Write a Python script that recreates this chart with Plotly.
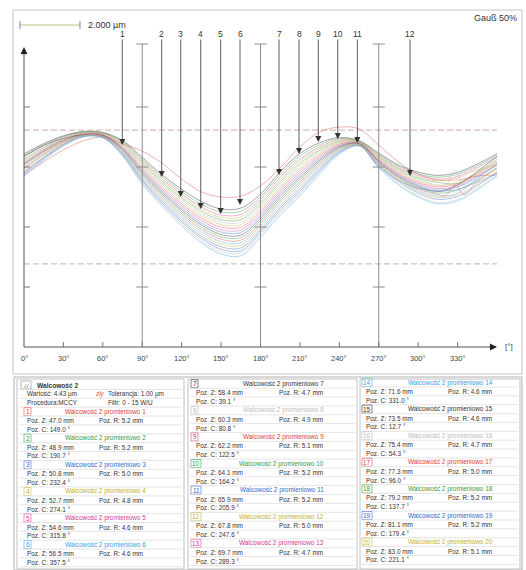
import plotly.graph_objects as go

W, H = 526, 570

# ---------------- roundness profiles (µm) ----------------
angle_deg = [0, 15, 30, 45, 60, 75, 90, 105, 120, 135, 150, 165, 180,
             195, 210, 225, 240, 255, 270, 285, 300, 315, 330, 345, 360]
bump_deg = [0, 15, 30, 45, 60, 75, 90, 105, 120, 135, 150, 165, 180,
            195, 210, 225, 240, 255, 270, 285, 300, 315, 321, 328, 335, 345, 360]

profile_01 = [0.73, 1.17, 1.57, 1.87, 2.00, 1.77, 1.53, 1.13, 0.60, 0.17, 0.00, 0.03, 0.37,
              0.97, 1.67, 2.17, 2.33, 2.27, 1.73, 1.17, 0.77, 0.57, 0.57, 0.70, 0.73]
profile_02 = [1.26, 1.65, 1.96, 2.14, 2.11, 1.76, 1.11, 0.49, -0.03, -0.48, -0.76, -0.75, -0.24,
              0.50, 1.11, 1.56, 1.85, 1.84, 1.34, 0.91, 0.63, 0.49, 0.45, 0.80, 1.26]
profile_03 = [1.06, 1.50, 1.87, 2.09, 2.06, 1.62, 0.87, 0.21, -0.36, -0.86, -1.17, -1.18, -0.63,
              0.11, 0.73, 1.28, 1.70, 1.79, 1.21, 0.73, 0.40, 0.23, 0.33, 0.66, 1.06]
profile_04 = [1.18, 1.59, 1.92, 2.12, 2.09, 1.70, 1.01, 0.38, -0.16, -0.63, -0.92, -0.92, -0.40,
              0.34, 0.96, 1.45, 1.79, 1.82, 1.29, 0.84, 0.54, 0.39, 0.49, 0.80, 1.18]
profile_05 = [1.34, 1.71, 2.00, 2.16, 2.13, 1.82, 1.21, 0.60, 0.10, -0.33, -0.60, -0.58, -0.08,
              0.66, 1.26, 1.67, 1.91, 1.86, 1.39, 0.98, 0.72, 0.59, 0.69, 0.98, 1.34]
profile_06 = [1.10, 1.55, 1.90, 2.05, 2.02, 1.50, 0.67, -0.02, -0.63, -1.16, -1.49, -1.53, -0.95,
              -0.21, 0.42, 1.05, 1.58, 1.75, 1.10, 0.58, 0.22, 0.03, 0.13, 0.62, 1.10]
profile_07 = [1.44, 1.78, 2.04, 2.18, 2.15, 1.88, 1.32, 0.74, 0.26, -0.15, -0.40, -0.37, 0.10,
              0.84, 1.45, 1.81, 1.98, 1.88, 1.46, 1.07, 0.83, 0.72, 0.82, 1.10, 1.44]
profile_08 = [0.74, 1.26, 1.72, 2.01, 1.98, 1.39, 0.48, -0.24, -0.89, -1.46, -1.82, -1.87, -1.26,
              -0.52, 0.12, 0.83, 1.46, 1.71, 1.00, 0.44, 0.04, -0.18, -0.08, 0.29, 0.74]
profile_09 = [1.14, 1.56, 1.90, 2.11, 2.08, 1.67, 0.96, 0.32, -0.23, -0.71, -1.00, -1.01, -0.48,
              0.26, 0.88, 1.39, 1.76, 1.81, 1.26, 0.80, 0.49, 0.34, 0.44, 0.75, 1.14]
profile_10 = [0.98, 1.44, 1.83, 2.07, 2.04, 1.56, 0.77, 0.10, -0.49, -1.01, -1.33, -1.35, -0.79,
              -0.05, 0.58, 1.17, 1.64, 1.77, 1.16, 0.66, 0.31, 0.13, 0.23, 0.57, 0.98]
profile_11 = [0.82, 1.32, 1.76, 2.03, 2.00, 1.45, 0.58, -0.13, -0.76, -1.31, -1.66, -1.70, -1.10,
              -0.36, 0.27, 0.94, 1.52, 1.73, 1.05, 0.51, 0.13, -0.08, 0.02, 0.38, 0.82]
profile_12 = [1.05, 1.50, 1.88, 2.15, 2.12, 1.79, 1.16, 0.55, 0.04, -0.41, -0.68, -0.66, -0.16,
              0.58, 1.19, 1.62, 1.88, 1.85, 1.37, 0.95, 0.67, 0.54, 0.64, 0.90, 1.05]
profile_13 = [1.10, 1.53, 1.88, 2.10, 2.07, 1.64, 0.91, 0.26, -0.30, -0.78, -1.09, -1.10, -0.56,
              0.18, 0.80, 1.33, 1.73, 1.80, 1.23, 0.76, 0.45, 0.28, 0.38, 0.70, 1.10]
profile_14 = [0.70, 1.23, 1.70, 2.00, 1.97, 1.36, 0.43, -0.30, -0.96, -1.53, -1.90, -1.96, -1.34,
              -0.60, 0.04, 0.77, 1.43, 1.70, 0.97, 0.40, 0.00, -0.23, -0.13, 0.24, 0.70]
profile_15 = [1.35, 1.72, 1.95, 2.08, 2.05, 1.59, 0.82, 0.15, -0.43, -0.93, -1.25, -1.27, -0.71,
              0.03, 0.65, 1.22, 1.67, 1.78, 1.18, 0.69, 0.36, 0.18, 0.40, 0.85, 1.35]
profile_16 = [1.22, 1.62, 1.94, 2.13, 2.10, 1.73, 1.06, 0.43, -0.10, -0.56, -0.84, -0.84, -0.32,
              0.42, 1.03, 1.50, 1.82, 1.83, 1.31, 0.87, 0.58, 0.40, 0.38, 0.90, 0.40, 0.80, 1.22]
profile_17 = [0.94, 1.41, 1.81, 2.06, 2.03, 1.53, 0.72, 0.04, -0.56, -1.08, -1.41, -1.44, -0.87,
              -0.13, 0.50, 1.11, 1.61, 1.76, 1.13, 0.62, 0.27, 0.08, 0.05, 0.40, 0.08, 0.52, 0.94]
profile_18 = [1.39, 1.75, 2.02, 2.17, 2.14, 1.85, 1.26, 0.67, 0.18, -0.24, -0.50, -0.47, 0.01,
              0.75, 1.36, 1.74, 1.95, 1.87, 1.43, 1.03, 0.77, 0.66, 0.76, 1.04, 1.39]
profile_19 = [0.78, 1.29, 1.74, 2.02, 1.99, 1.42, 0.53, -0.19, -0.83, -1.38, -1.74, -1.79, -1.18,
              -0.44, 0.19, 0.88, 1.49, 1.72, 1.02, 0.55, 0.30, 0.20, 0.25, 0.50, 0.78]
profile_20 = [0.86, 1.35, 1.77, 2.04, 2.01, 1.47, 0.62, -0.07, -0.69, -1.23, -1.57, -1.61, -1.03,
              -0.29, 0.35, 1.00, 1.55, 1.74, 1.08, 0.55, 0.18, -0.02, 0.08, 0.43, 0.86]

profiles = [profile_01, profile_02, profile_03, profile_04, profile_05, profile_06, profile_07,
            profile_08, profile_09, profile_10, profile_11, profile_12, profile_13, profile_14,
            profile_15, profile_16, profile_17, profile_18, profile_19, profile_20]

tol_upper = 2.23
tol_lower = -2.23

# marked points on the profile band
marker_deg = [74.8, 104.8, 119.3, 134.5, 149.7, 164.4, 194.1, 209.3, 224.0, 238.8, 253.7, 293.8]
marker_um = [1.73, 0.67, 0.00, -0.40, -0.57, -0.27, 0.73, 1.43, 1.83, 1.93, 1.80, 0.70]

x_ticks = [0, 30, 60, 90, 120, 150, 180, 210, 240, 270, 300, 330]
guide_deg = [90, 180, 270]
guide_um = [3, 1, -1, -3]

# probe positions of the 20 radial sections
probe_z = [47.0, 48.9, 50.8, 52.7, 54.6, 56.5, 58.4, 60.3, 62.2, 64.1,
           65.9, 67.8, 69.7, 71.6, 73.5, 75.4, 77.3, 79.2, 81.1, 83.0]
probe_r = [5.2, 5.2, 5.0, 4.8, 4.6, 4.6, 4.7, 4.9, 5.1, 5.2,
           5.2, 5.0, 4.7, 4.6, 4.6, 4.7, 5.0, 5.2, 5.2, 5.1]
probe_c = [149.0, 190.7, 232.4, 274.1, 315.8, 357.5, 39.1, 80.8, 122.5, 164.2,
           205.9, 247.6, 289.3, 331.0, 12.7, 54.3, 96.0, 137.7, 179.4, 221.1]

line_palette = ["#e86a6e", "#5cae66", "#5f88d8", "#d0c260", "#dc6aae", "#62b8ea", "#505050", "#c4c4c4"]
text_palette = ["#e03a3a", "#3a9a40", "#3468cc", "#c4b030", "#d03a96", "#34a2e4", "#333333", "#bdbdbd"]

FONT = "Liberation Sans, Arial, sans-serif"

# ---------------- pixel <-> data helpers for layout ----------------
X0, SX = 24.0, 473.0 / 360.0
Y0, SY = 197.0, 30.0


def dx(px):
    return (px - X0) / SX


def dy(py):
    return (Y0 - py) / SY


def PX(x):
    return x / W


def PY(y):
    return 1 - y / H


fig = go.Figure()

for i, prof in enumerate(profiles):
    xs = bump_deg if len(prof) == len(bump_deg) else angle_deg
    fig.add_trace(go.Scatter(
        x=xs, y=prof, mode="lines",
        line=dict(color=line_palette[i % 8], width=0.8, shape="spline", smoothing=1.0),
        opacity=0.65, hoverinfo="skip", showlegend=False))

shapes = []
annotations = []

# chart panel frame
shapes.append(dict(type="rect", xref="paper", yref="paper", x0=PX(13), x1=PX(522), y0=PY(10), y1=PY(374),
                   line=dict(color="#c4c4c4", width=1)))

axis_floor = -5.0
# tolerance lines
shapes.append(dict(type="line", xref="x", yref="y", x0=0, x1=360, y0=tol_upper, y1=tol_upper,
                   line=dict(color="#cfa8a8", width=1, dash="6px,3px")))
shapes.append(dict(type="line", xref="x", yref="y", x0=0, x1=360, y0=tol_lower, y1=tol_lower,
                   line=dict(color="#b8b8b8", width=1, dash="6px,3px")))

# vertical guides with scale marks
top_um = dy(44)
for g in guide_deg:
    shapes.append(dict(type="line", xref="x", yref="y", x0=g, x1=g, y0=axis_floor, y1=top_um,
                       line=dict(color="#8c8c8c", width=1)))
    for t in [top_um] + guide_um:
        shapes.append(dict(type="line", xref="x", yref="y", x0=g - 4.6,
                           x1=g + 4.6, y0=t, y1=t, line=dict(color="#8c8c8c", width=1)))

# left axis with ticks
shapes.append(dict(type="line", xref="x", yref="y", x0=0, x1=0, y0=axis_floor, y1=dy(52),
                   line=dict(color="#555555", width=1)))
for t in guide_um:
    shapes.append(dict(type="line", xref="x", yref="y", x0=0, x1=dx(30), y0=t, y1=t,
                       line=dict(color="#777777", width=1)))
annotations.append(dict(x=0, y=dy(47), ax=0, ay=dy(56), xref="x", yref="y", axref="x", ayref="y",
                        text="", showarrow=True, arrowhead=2, arrowsize=1.4, arrowwidth=1,
                        arrowcolor="#222222"))

# bottom axis
shapes.append(dict(type="line", xref="x", yref="y", x0=0, x1=dx(492), y0=axis_floor, y1=axis_floor,
                   line=dict(color="#555555", width=1)))
annotations.append(dict(x=360, y=axis_floor, ax=dx(488), ay=axis_floor, xref="x", yref="y",
                        axref="x", ayref="y", text="", showarrow=True, arrowhead=2, arrowsize=1.4,
                        arrowwidth=1, arrowcolor="#222222"))
for t in x_ticks:
    if t > 0:
        shapes.append(dict(type="line", xref="x", yref="y", x0=t, x1=t, y0=axis_floor, y1=dy(342),
                           line=dict(color="#777777", width=1)))
    annotations.append(dict(x=t, y=dy(358), xref="x", yref="y", text=f"{t}°", showarrow=False,
                            font=dict(family=FONT, size=7.5, color="#444444")))
annotations.append(dict(x=dx(509), y=dy(346), xref="x", yref="y", text="[°]", showarrow=False,
                        font=dict(family=FONT, size=8, color="#444444")))

# marker arrows
label_um = dy(34)
for n, (mx, my) in enumerate(zip(marker_deg, marker_um), start=1):
    annotations.append(dict(x=mx, y=my, ax=mx, ay=label_um, xref="x", yref="y", axref="x", ayref="y",
                            text=str(n), showarrow=True, arrowhead=2, arrowsize=1.5, arrowwidth=0.8,
                            arrowcolor="#333333", borderpad=0,
                            font=dict(family=FONT, size=8.5, color="#333333")))

# scale bar
shapes.append(dict(type="line", xref="x", yref="y", x0=dx(20), x1=dx(80), y0=dy(25), y1=dy(25),
                   line=dict(color="#b7c77e", width=1)))
for ex in (20, 80):
    shapes.append(dict(type="line", xref="x", yref="y", x0=dx(ex), x1=dx(ex), y0=dy(21), y1=dy(29),
                       line=dict(color="#888888", width=1)))
annotations.append(dict(x=PX(86), y=PY(25), xref="paper", yref="paper", xanchor="left", yanchor="middle",
                        text="2.000 µm", showarrow=False, font=dict(family=FONT, size=9, color="#333333")))
annotations.append(dict(x=PX(519), y=PY(18), xref="paper", yref="paper", xanchor="right", yanchor="middle",
                        text="Gauß 50%", showarrow=False, font=dict(family=FONT, size=9, color="#333333")))

# ---------------- results table ----------------
shapes.append(dict(type="rect", xref="paper", yref="paper", x0=PX(14), x1=PX(522), y0=PY(377), y1=PY(570),
                   line=dict(color="#b0b0b0", width=1)))
cols = [
    dict(left=17, right=184, num_x=24, z_x=25, r_x=97, title_r=148, dy=2.5),
    dict(left=188, right=357, num_x=191, z_x=194, r_x=277, title_r=326, dy=1.2),
    dict(left=360, right=520, num_x=362, z_x=364, r_x=446, title_r=495, dy=0.0),
]
ROW0, STEP = 382.5, 26.6
TS = 6.4
for c in cols:
    shapes.append(dict(type="rect", xref="paper", yref="paper", x0=PX(c["left"]), x1=PX(c["right"]),
                       y0=PY(379), y1=PY(569), line=dict(color="#c0c0c0", width=1)))


def txt(x, y, s, color="#333333", anchor="left", size=TS):
    annotations.append(dict(x=PX(x), y=PY(y), xref="paper", yref="paper", xanchor=anchor, yanchor="middle",
                            text=s, showarrow=False, font=dict(family=FONT, size=size, color=color)))


def hline(c, y):
    shapes.append(dict(type="line", xref="paper", yref="paper", x0=PX(c["left"] + 2), x1=PX(c["right"] - 2),
                       y0=PY(y), y1=PY(y), line=dict(color="#dadada", width=0.7)))


# header block of column 1
c0 = cols[0]
hy = ROW0 + c0["dy"]
shapes.append(dict(type="rect", xref="paper", yref="paper", x0=PX(21), x1=PX(31), y0=PY(hy - 4), y1=PY(hy + 4),
                   line=dict(color="#9a9a9a", width=0.7)))
txt(26, hy, "⌭", color="#555555", anchor="center", size=6.5)
txt(35, hy, "<b>Walcowość 2</b>", size=6.6)
txt(25, hy + 9, "Wartość: 4.43 µm")
txt(93, hy + 9, "<i>zły</i>", color="#e0502a")
txt(106, hy + 9, "Tolerancja: 1.00 µm")
txt(25, hy + 17.7, "Procedura:MCCY")
txt(106, hy + 17.7, "Filtr: 0 - 15 W/U")
hline(c0, hy + 4.5)
hline(c0, hy + 13.3)
hline(c0, hy + 22.2)

for k in range(20):
    if k < 6:
        c, row = cols[0], k + 1
    elif k < 13:
        c, row = cols[1], k - 6
    else:
        c, row = cols[2], k - 13
    ty = ROW0 + STEP * row + c["dy"]
    col_t = text_palette[k % 8]
    col_l = line_palette[k % 8]
    n = k + 1
    bw = 7 if n < 10 else 10
    shapes.append(dict(type="rect", xref="paper", yref="paper", x0=PX(c["num_x"]), x1=PX(c["num_x"] + bw),
                       y0=PY(ty - 4), y1=PY(ty + 4), line=dict(color=col_l, width=0.7)))
    txt(c["num_x"] + bw / 2, ty, str(n), color=col_t, anchor="center")
    txt(c["title_r"], ty, f"Walcowość 2 promieniowo {n}", color=col_t, anchor="right")
    txt(c["z_x"], ty + 9, f"Poz. Z: {probe_z[k]:.1f} mm")
    txt(c["r_x"], ty + 9, f"Poz. R: {probe_r[k]:.1f} mm")
    txt(c["z_x"], ty + 17.7, f"Poz. C: {probe_c[k]:.1f} °")
    hline(c, ty + 4.5)
    hline(c, ty + 13.3)
    hline(c, ty + 22.2)

fig.update_layout(
    width=W, height=H, autosize=False,
    margin=dict(l=0, r=0, t=0, b=0),
    paper_bgcolor="white", plot_bgcolor="white",
    xaxis=dict(range=[dx(0), dx(W)], visible=False, fixedrange=True),
    yaxis=dict(range=[dy(H), dy(0)], visible=False, fixedrange=True),
    shapes=shapes, annotations=annotations, showlegend=False,
)

fig.write_html("out.html")
